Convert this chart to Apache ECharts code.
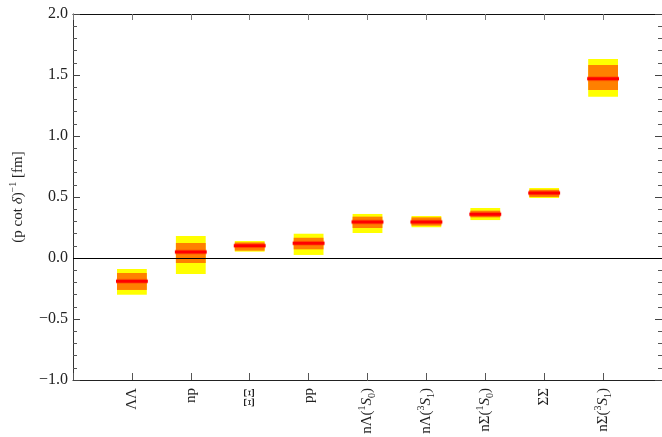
<!DOCTYPE html>
<html>
<head>
<meta charset="utf-8">
<script src="https://cdn.jsdelivr.net/npm/echarts@6/dist/echarts.min.js"></script>
<style>
  html, body { margin: 0; padding: 0; background: #fff; }
  #chart { width: 662px; height: 437px; }
</style>
</head>
<body>
<div id="chart"></div>
<script>
// Channel labels (rich-text markup for super/subscripts)
const categories = [
  'ΛΛ', 'np', 'ΞΞ', 'pp',
  'nΛ({sup|1}{it|S}{sub|0})', 'nΛ({sup|3}{it|S}{sub|1})',
  'nΣ({sup|1}{it|S}{sub|0})', 'ΣΣ', 'nΣ({sup|3}{it|S}{sub|1})'
];
// Central values of (p cot δ)^-1 in fm
const central   = [-0.19, 0.05, 0.10, 0.12, 0.295, 0.295, 0.358, 0.533, 1.47];
// Inner (statistical) band
const innerLow  = [-0.262, -0.041, 0.06, 0.071, 0.246, 0.265, 0.333, 0.50, 1.377];
const innerHigh = [-0.123, 0.123, 0.128, 0.166, 0.339, 0.333, 0.388, 0.56, 1.582];
// Outer (total) band
const outerLow  = [-0.301, -0.131, 0.052, 0.025, 0.205, 0.252, 0.311, 0.492, 1.322];
const outerHigh = [-0.09, 0.18, 0.139, 0.199, 0.361, 0.344, 0.41, 0.574, 1.631];
// Y tick values
const yTicks = { min: -1.0, max: 2.0, step: 0.5 };

const FONT = '"Liberation Serif", "DejaVu Serif", serif';
const BOX_HALF = 0.253;
const LINE_HALF = 0.27;

const seriesData = categories.map((c, i) => [i + 1, outerLow[i], outerHigh[i], innerLow[i], innerHigh[i], central[i]]);

const labelRich = {
  sup: { fontFamily: FONT, fontSize: 10, verticalAlign: 'top', lineHeight: 20, color: '#222' },
  sub: { fontFamily: FONT, fontSize: 10, verticalAlign: 'bottom', lineHeight: 20, color: '#222' },
  it:  { fontFamily: FONT, fontSize: 15, fontStyle: 'italic', lineHeight: 20, color: '#222' }
};

const chart = echarts.init(document.getElementById('chart'), null, { renderer: 'canvas' });

chart.setOption({
  animation: false,
  backgroundColor: '#fff',
  grid: { left: 73, top: 14, width: 593, height: 366 },
  xAxis: [
    {
      type: 'value', position: 'bottom', min: 0, max: 10, interval: 1,
      splitLine: { show: false },
      axisLine: { show: true, onZero: false, lineStyle: { color: '#222', width: 1 } },
      axisTick: { show: true, inside: true, length: 7, lineStyle: { color: '#555' } },
      axisLabel: {
        show: true, inside: false,
        rotate: 90, margin: 8, fontFamily: FONT, fontSize: 15, color: '#222',
        lineHeight: 20, rich: labelRich,
        formatter: v => categories[v - 1] || ''
      }
    },
    {
      type: 'value', position: 'top', min: 0, max: 10, interval: 1,
      splitLine: { show: false },
      axisLine: { show: true, onZero: false, lineStyle: { color: '#111', width: 1.2 } },
      axisTick: { show: true, inside: true, length: 6, lineStyle: { color: '#777' } },
      axisLabel: { show: false }
    }
  ],
  yAxis: [
    {
      type: 'value', position: 'left', min: yTicks.min, max: yTicks.max, interval: yTicks.step,
      splitLine: { show: false },
      axisLine: { show: true, onZero: false, lineStyle: { color: '#333', width: 1 } },
      axisTick: { show: true, inside: true, length: 7, lineStyle: { color: '#444' } },
      minorTick: { show: true, splitNumber: 5, length: 4, lineStyle: { color: '#555' } },
      axisLabel: {
        show: true, inside: false,
        margin: 5, fontFamily: FONT, fontSize: 16, color: '#222',
        formatter: v => v.toFixed(1).replace('-', '−')
      },
      name: '(p cot {it|δ}){sup|−1} [fm]',
      nameLocation: 'middle', nameGap: 42, nameRotate: 90,
      nameTextStyle: {
        fontFamily: FONT, fontSize: 15, color: '#222', lineHeight: 20,
        rich: {
          it: { fontFamily: FONT, fontSize: 15, fontStyle: 'italic', color: '#222', lineHeight: 20 },
          sup: { fontFamily: FONT, fontSize: 10, verticalAlign: 'top', color: '#222', lineHeight: 20 }
        }
      }
    },
    {
      type: 'value', position: 'right', min: yTicks.min, max: yTicks.max, interval: yTicks.step,
      splitLine: { show: false },
      axisLine: { show: true, onZero: false, lineStyle: { color: '#333', width: 1 } },
      axisTick: { show: true, inside: true, length: 7, lineStyle: { color: '#444' } },
      minorTick: { show: true, splitNumber: 5, length: 4, lineStyle: { color: '#555' } },
      axisLabel: { show: false }
    }
  ],
  series: [{
    type: 'custom',
    xAxisIndex: 0, yAxisIndex: 0,
    data: seriesData,
    renderItem: (params, api) => {
      const x = api.value(0);
      const rect = (lo, hi, half, color) => {
        const p1 = api.coord([x - half, hi]);
        const p2 = api.coord([x + half, lo]);
        return {
          type: 'rect',
          shape: { x: p1[0], y: p1[1], width: p2[0] - p1[0], height: p2[1] - p1[1] },
          style: { fill: color }
        };
      };
      const a = api.coord([x - LINE_HALF, api.value(5)]);
      const b = api.coord([x + LINE_HALF, api.value(5)]);
      return {
        type: 'group',
        children: [
          rect(api.value(1), api.value(2), BOX_HALF, '#ffff00'),
          rect(api.value(3), api.value(4), BOX_HALF, '#ff8000'),
          { type: 'line', shape: { x1: a[0], y1: a[1], x2: b[0], y2: b[1] },
            style: { stroke: 'rgba(255,0,0,0.25)', lineWidth: 5 } },
          { type: 'line', shape: { x1: a[0], y1: a[1], x2: b[0], y2: b[1] },
            style: { stroke: '#ff0000', lineWidth: 3 } }
        ]
      };
    },
    markLine: {
      silent: true, symbol: 'none', label: { show: false },
      lineStyle: { color: '#000', width: 1.2, type: 'solid' },
      data: [{ yAxis: 0 }]
    }
  }]
});
</script>
</body>
</html>
